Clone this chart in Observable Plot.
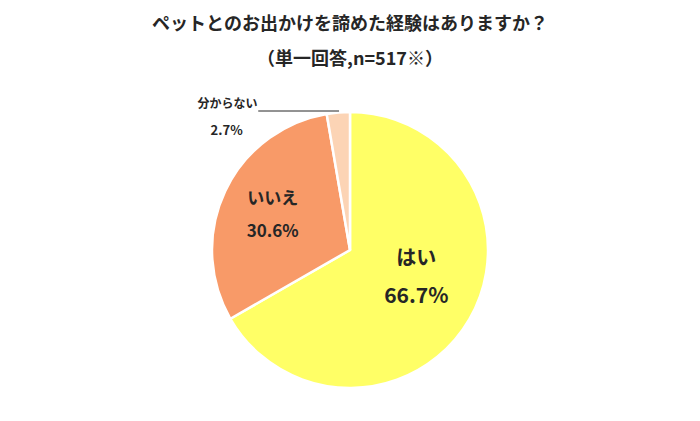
<!DOCTYPE html>
<html><head><meta charset="utf-8">
<script src="https://cdn.jsdelivr.net/npm/d3@7"></script>
<script src="https://cdn.jsdelivr.net/npm/@observablehq/plot@0.6"></script>
<style>
body{margin:0;background:#fff;font-family:"Noto Sans CJK JP","Noto Sans",sans-serif;}
#wrap{width:700px;height:421px;position:relative;overflow:hidden;}
.t{text-align:center;font-weight:700;color:#262626;font-size:18px;line-height:26px;height:26px;}
</style></head><body>
<div id="wrap">
<div class="t" style="padding-top:9px">ペットとのお出かけを諦めた経験はありますか？</div>
<div class="t" style="margin-top:9px">（単一回答,n=517※）</div>
<div id="chart"></div>
</div>
<script>
const categories = ["はい", "いいえ", "分からない"];
const values = [66.7, 30.6, 2.7];
const colors = ["#FFFF66", "#F89A68", "#FCD4B5"];

const R = 138;
const W = 700, H = 351;
const pie = d3.pie().sort(null).value(d => d.value);
const arcs = pie(categories.map((c, i) => ({category: c, value: values[i], color: colors[i]})));

// label placement config (style, not data)
const labelCfg = {
  "はい": {r: 76, dyName: -30, dyValue: 8, sizeName: 20, sizeValue: 21},
  "いいえ": {r: 86, dyName: -15, dyValue: 18, sizeName: 17, sizeValue: 17}
};
const inside = [], outName = [], outValue = [], leader = [];
for (const a of arcs) {
  const mid = (a.startAngle + a.endAngle) / 2;
  const cfg = labelCfg[a.data.category];
  const pct = a.data.value.toFixed(1) + "%";
  if (cfg) {
    const x = cfg.r * Math.sin(mid), y = -cfg.r * Math.cos(mid);
    inside.push({x, y: y + cfg.dyName, text: a.data.category, size: cfg.sizeName});
    inside.push({x, y: y + cfg.dyValue, text: pct, size: cfg.sizeValue});
  } else {
    const x0 = (R + 2) * Math.sin(mid), y0 = -(R + 2) * Math.cos(mid);
    const x1 = x0 - 80;
    leader.push({x: x0, y: y0}, {x: x1, y: y0});
    outName.push({x: x1 - 1, y: y0 - 7, text: a.data.category});
    outValue.push({x: x1 - 32, y: y0 + 20, text: pct});
  }
}

const pieMark = (index, scales) => {
  const cx = scales.x(0), cy = scales.y(0);
  const rr = scales.x(R) - scales.x(0);
  const arcGen = d3.arc().innerRadius(0).outerRadius(rr);
  const g = d3.create("svg:g").attr("transform", `translate(${cx},${cy})`);
  g.selectAll("path").data(arcs).join("path")
    .attr("d", arcGen)
    .attr("fill", d => d.data.color)
    .attr("stroke", "#fff")
    .attr("stroke-width", 2.5)
    .attr("stroke-linejoin", "round");
  return g.node();
};

const chart = Plot.plot({
  width: W, height: H,
  margin: 0,
  x: {domain: [-350, 350], range: [0, W], axis: null},
  y: {domain: [-180, H - 180], range: [0, H], axis: null},
  style: {fontFamily: '"Noto Sans CJK JP", sans-serif', background: "#fff"},
  marks: [
    pieMark,
    Plot.line(leader, {x: "x", y: "y", stroke: "#262626", strokeWidth: 1}),
    Plot.text(inside, {x: "x", y: "y", text: "text", fontSize: d => d.size, fontWeight: 700, fill: "#262626"}),
    Plot.text(outName, {x: "x", y: "y", text: "text", textAnchor: "end", fontSize: 12, fontWeight: 700, fill: "#262626"}),
    Plot.text(outValue, {x: "x", y: "y", text: "text", textAnchor: "middle", fontSize: 13, fontWeight: 700, fill: "#262626"})
  ]
});
document.getElementById("chart").appendChild(chart);
</script>
</body></html>
